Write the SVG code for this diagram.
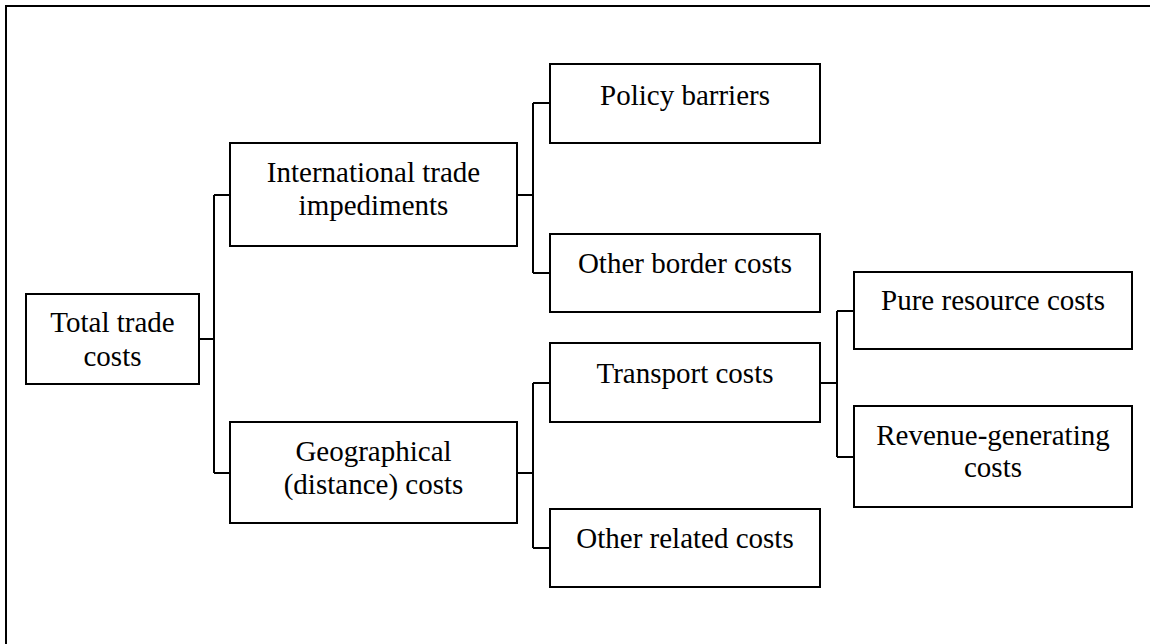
<svg xmlns="http://www.w3.org/2000/svg" width="1150" height="644" viewBox="0 0 1150 644">
<style>
.box{fill:#fff;stroke:#000;stroke-width:2}
.t{font-family:"Liberation Serif","Times New Roman",serif;font-size:29px;fill:#000;text-anchor:middle}
.c{fill:none;stroke:#000;stroke-width:2}
</style>
<rect x="0" y="0" width="1150" height="644" fill="#fff"/>
<rect id="frame" x="6" y="6" width="1160" height="660" fill="none" stroke="#000" stroke-width="2"/>
<g id="connectors">
<path class="c" d="M199,339H214M214,195V473M214,195H230M214,473H230"/>
<path class="c" d="M517,195H533M533,103V273M533,103H550M533,273H550"/>
<path class="c" d="M517,473H533M533,383V548M533,383H550M533,548H550"/>
<path class="c" d="M820,383H837M837,311V457M837,311H854M837,457H854"/>
</g>
<g id="total"><rect class="box" x="26" y="294" width="173" height="90"/><text class="t" x="112.5" y="332">Total trade</text><text class="t" x="112.5" y="366">costs</text></g>
<g id="intl"><rect class="box" x="230" y="143" width="287" height="103"/><text class="t" x="373.5" y="182">International trade</text><text class="t" x="373.5" y="215">impediments</text></g>
<g id="geo"><rect class="box" x="230" y="422" width="287" height="101"/><text class="t" x="373.5" y="461">Geographical</text><text class="t" x="373.5" y="494">(distance) costs</text></g>
<g id="policy"><rect class="box" x="550" y="64" width="270" height="79"/><text class="t" x="685" y="105">Policy barriers</text></g>
<g id="border"><rect class="box" x="550" y="234" width="270" height="78"/><text class="t" x="685" y="273">Other border costs</text></g>
<g id="transport"><rect class="box" x="550" y="343" width="270" height="79"/><text class="t" x="685" y="383">Transport costs</text></g>
<g id="related"><rect class="box" x="550" y="509" width="270" height="78"/><text class="t" x="685" y="548">Other related costs</text></g>
<g id="pure"><rect class="box" x="854" y="272" width="278" height="77"/><text class="t" x="993" y="310">Pure resource costs</text></g>
<g id="revenue"><rect class="box" x="854" y="406" width="278" height="101"/><text class="t" x="993" y="445">Revenue-generating</text><text class="t" x="993" y="477">costs</text></g>
</svg>
